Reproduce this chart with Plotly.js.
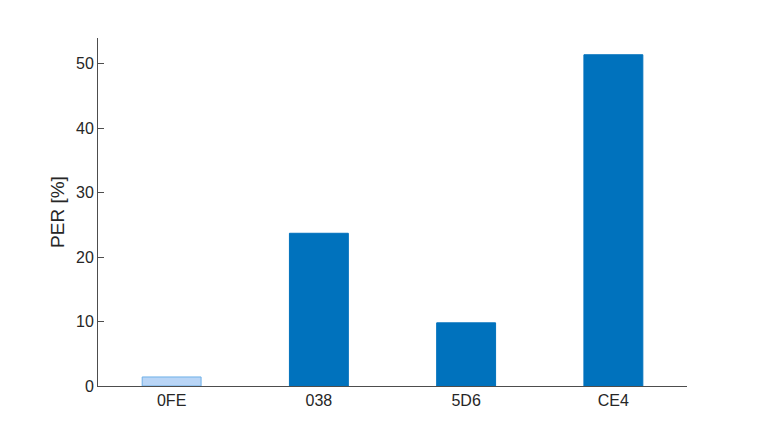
<!DOCTYPE html>
<html>
<head>
<meta charset="utf-8">
<script src="https://cdn.plot.ly/plotly-3.0.1.min.js"></script>
<style>html,body{margin:0;padding:0;background:#fff;}#chart{width:760px;height:440px;}</style>
</head>
<body>
<div id="chart"></div>
<script>
var categories = ["0FE", "038", "5D6", "CE4"];
var perValues = [1.4, 23.7, 9.8, 51.4];
var barColors = ["#b9d5f6", "#0072bd", "#0072bd", "#0072bd"];
var edgeColors = ["#6fb0e8", "#0072bd", "#0072bd", "#0072bd"];
var yTicks = [0, 10, 20, 30, 40, 50];

var trace = {
  type: "bar",
  x: categories,
  y: perValues,
  width: 0.4,
  marker: {color: barColors, line: {color: edgeColors, width: 1}},
  hoverinfo: "x+y"
};

var layout = {
  width: 760, height: 440,
  margin: {l: 98, r: 73, t: 38, b: 54},
  paper_bgcolor: "#fff", plot_bgcolor: "#fff",
  showlegend: false,
  font: {family: "Liberation Sans, Arial, sans-serif", size: 16, color: "#262626"},
  xaxis: {
    type: "category",
    range: [-0.5, 3.5],
    showline: true, linecolor: "#4d4d4d", linewidth: 1,
    ticks: "", showgrid: false, zeroline: false,
    tickfont: {size: 16, color: "#262626"}
  },
  yaxis: {
    range: [0, 54],
    tickvals: yTicks,
    ticktext: yTicks.map(String),
    showline: true, linecolor: "#4d4d4d", linewidth: 1,
    ticks: "inside", ticklen: 6, tickcolor: "#4d4d4d",
    showgrid: false, zeroline: false,
    tickfont: {size: 16, color: "#262626"},
    title: {text: "PER [%]", font: {size: 19, color: "#262626"}, standoff: 6}
  }
};

Plotly.newPlot("chart", [trace], layout, {displayModeBar: false, staticPlot: true});
</script>
</body>
</html>
